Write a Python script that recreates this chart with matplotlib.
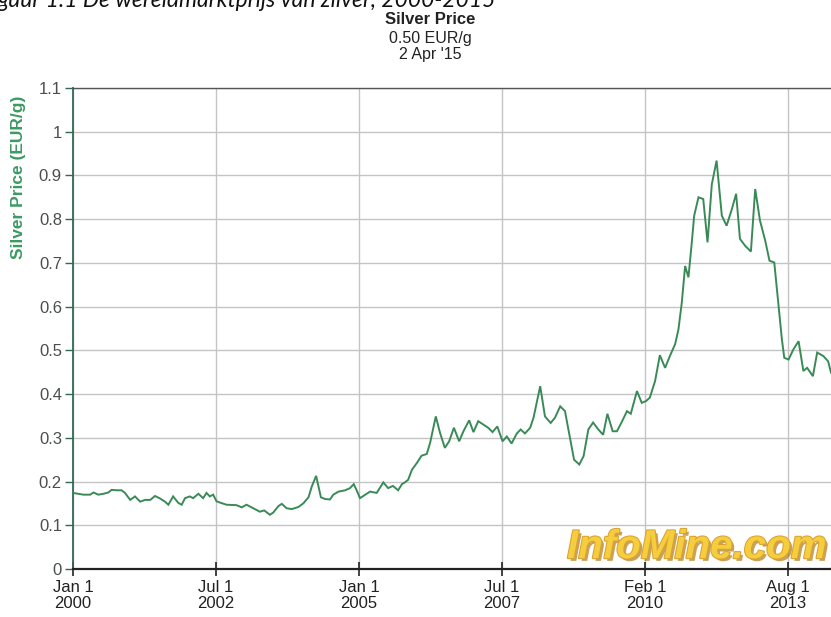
import matplotlib
matplotlib.use("Agg")
import matplotlib.pyplot as plt
import matplotlib.patheffects as pe
from matplotlib import font_manager

# ---- data ----
# x: chart position in "chart months" (30 per labelled tick interval)
month_index = [0, 2.2, 3.6, 4.3, 5.3, 6.4, 7.4, 8.1, 9.2, 10.2, 10.9, 12.0, 13.0, 14.1, 15.1,
               16.2, 17.2, 18.3, 19.3, 20.0, 21.0, 22.1, 22.8, 23.5, 24.5, 25.2, 26.3, 27.3,
               28.0, 28.7, 29.4, 30.1, 30.8, 32.2, 34.3, 35.4, 36.4, 37.8, 39.2, 40.1, 41.3,
               42.0, 43.1, 43.8, 44.8, 45.9, 47.3, 48.3, 49.4, 50.1, 51.0, 51.5, 52.0, 52.9,
               53.9, 54.6, 55.7, 57.1, 58.1, 58.9, 59.5, 60.2, 61.3, 62.3, 63.7, 65.1, 66.1,
               67.1, 68.2, 69.0, 69.6, 70.3, 71.1, 72.1, 73.1, 74.2, 74.9, 75.5, 76.1, 77.0,
               78.0, 78.9, 79.9, 81.0, 81.9, 83.1, 84.0, 85.0, 86.1, 87.1, 88.0, 89.0, 90.1,
               91.0, 92.0, 93.1, 93.9, 94.8, 95.9, 96.6, 98.0, 99.0, 100.2, 101.1, 102.2,
               103.2, 104.3, 105.1, 106.2, 107.1, 108.1, 109.1, 110.2, 111.2, 112.1, 113.2,
               114.1, 115.1, 116.2, 117.0, 118.3, 119.3, 120.2, 121.0, 122.1, 123.1, 124.2,
               125.2, 126.3, 127.0, 127.7, 128.4, 129.1, 129.8, 130.3, 131.2, 132.2, 133.1,
               134.0, 135.0, 136.1, 137.1, 138.2, 139.1, 139.9, 141.0, 142.2, 143.1, 144.1,
               145.2, 146.1, 147.1, 148.0, 148.7, 149.2, 150.1, 151.1, 152.2, 153.2, 154.0,
               155.2, 156.1, 157.4, 158.4, 159.0]

price_eur_g = [0.174, 0.170, 0.170, 0.175, 0.170, 0.172, 0.175, 0.181, 0.180, 0.180, 0.174,
               0.158, 0.166, 0.154, 0.158, 0.158, 0.167, 0.161, 0.154, 0.147, 0.166, 0.151,
               0.147, 0.162, 0.166, 0.162, 0.172, 0.162, 0.174, 0.166, 0.170, 0.155, 0.152,
               0.147, 0.146, 0.141, 0.147, 0.139, 0.131, 0.134, 0.124, 0.129, 0.144, 0.149,
               0.139, 0.137, 0.142, 0.150, 0.164, 0.189, 0.213, 0.189, 0.164, 0.160, 0.159,
               0.170, 0.177, 0.180, 0.185, 0.194, 0.180, 0.162, 0.170, 0.177, 0.174, 0.198,
               0.185, 0.190, 0.180, 0.194, 0.198, 0.204, 0.227, 0.242, 0.259, 0.263, 0.288,
               0.319, 0.349, 0.311, 0.277, 0.292, 0.323, 0.292, 0.315, 0.340, 0.313, 0.338,
               0.330, 0.323, 0.313, 0.326, 0.292, 0.303, 0.287, 0.310, 0.319, 0.310, 0.323,
               0.346, 0.418, 0.349, 0.334, 0.346, 0.372, 0.361, 0.296, 0.250, 0.239, 0.258,
               0.319, 0.335, 0.319, 0.307, 0.355, 0.315, 0.315, 0.336, 0.361, 0.355, 0.407,
               0.380, 0.384, 0.392, 0.430, 0.489, 0.460, 0.487, 0.514, 0.548, 0.609, 0.693,
               0.667, 0.747, 0.808, 0.850, 0.846, 0.747, 0.880, 0.934, 0.808, 0.785, 0.823,
               0.858, 0.755, 0.739, 0.726, 0.869, 0.797, 0.751, 0.705, 0.701, 0.602, 0.525,
               0.483, 0.479, 0.502, 0.521, 0.453, 0.460, 0.441, 0.495, 0.487, 0.475, 0.449]

x_tick_pos = [0, 30, 60, 90, 120, 150]
x_tick_labels = ["Jan 1\n2000", "Jul 1\n2002", "Jan 1\n2005", "Jul 1\n2007",
                 "Feb 1\n2010", "Aug 1\n2013"]
y_tick_pos = [0, 0.1, 0.2, 0.3, 0.4, 0.5, 0.6, 0.7, 0.8, 0.9, 1.0, 1.1]
y_tick_labels = ["0", "0.1", "0.2", "0.3", "0.4", "0.5", "0.6", "0.7", "0.8", "0.9", "1", "1.1"]

title_lines = ["Silver Price", "0.50 EUR/g", "2 Apr '15"]
caption = "guur 1.1 De wereldmarktprijs van zilver, 2000-2015"

# ---- figure ----
W, H = 831, 617
plt.rcParams['font.family'] = ['Liberation Sans', 'DejaVu Sans']
installed = {f.name for f in font_manager.fontManager.ttflist}
narrow = ['Liberation Sans Narrow', 'Liberation Sans'] if 'Liberation Sans Narrow' in installed \
    else ['Liberation Sans']

fig = plt.figure(figsize=(W / 100, H / 100), dpi=100)
fig.patch.set_facecolor('white')

ax = fig.add_axes([73 / W, 48 / H, 1 - 73 / W + 0.01, 481 / H])
ax.set_xlim(0, 159 * (1 + 0.01 * W / (W - 73)))
ax.set_ylim(0, 1.1)

ax.plot(month_index, price_eur_g, color='#3a8a58', lw=1.4, solid_joinstyle='miter', zorder=3)

ax.set_xticks(x_tick_pos)
ax.set_xticklabels(x_tick_labels, fontsize=12, color='#222222', linespacing=1.05,
                   family=narrow)
ax.set_yticks(y_tick_pos)
ax.set_yticklabels(y_tick_labels, fontsize=12, color='#4a4f4c')

ax.grid(True, color='#c4c4c4', lw=1.0)
ax.set_axisbelow(True)

ax.spines['right'].set_visible(False)
ax.spines['top'].set_color('#555555')
ax.spines['top'].set_linewidth(1.0)
ax.spines['left'].set_color('#2f6a52')
ax.spines['left'].set_linewidth(1.3)
ax.spines['bottom'].set_color('#222222')
ax.spines['bottom'].set_linewidth(1.6)

ax.tick_params(axis='y', direction='out', length=6, width=1.0, color='#2f6a52', pad=2)
ax.tick_params(axis='x', direction='inout', length=10, width=1.2, color='#222222', pad=3)

# y axis label
fig.text(19 / W, 1 - 177 / H, "Silver Price (EUR/g)", rotation=90, ha='center', va='center',
         fontsize=12.5, fontweight='bold', color='#3c9a62')

# title block
cx = 430 / W
fig.text(cx, 1 - 20 / H, title_lines[0], ha='center', va='center', fontsize=12,
         fontweight='bold', color='#222222')
fig.text(cx, 1 - 38 / H, title_lines[1], ha='center', va='center', fontsize=11.5, color='#222222')
fig.text(cx, 1 - 55 / H, title_lines[2], ha='center', va='center', fontsize=11.5, color='#222222')

# partially cropped caption at the very top
fig.text(-2 / W, 1 - 7 / H, caption, ha='left', va='baseline', fontsize=16.5,
         family=['Lato', 'DejaVu Sans'], style='italic', color='#111111')

# watermark
ax.text(0.983, 0.006, "InfoMine.com", transform=ax.transAxes, ha='right', va='bottom',
        fontsize=29, fontweight='bold', style='italic', color='#f6cd3c', zorder=4,
        path_effects=[pe.SimplePatchShadow(offset=(2, -2), shadow_rgbFace='#b07a18', alpha=0.7),
                      pe.withStroke(linewidth=1.5, foreground='#d9a332')])

fig.savefig("out.png", dpi=100, facecolor='white')
